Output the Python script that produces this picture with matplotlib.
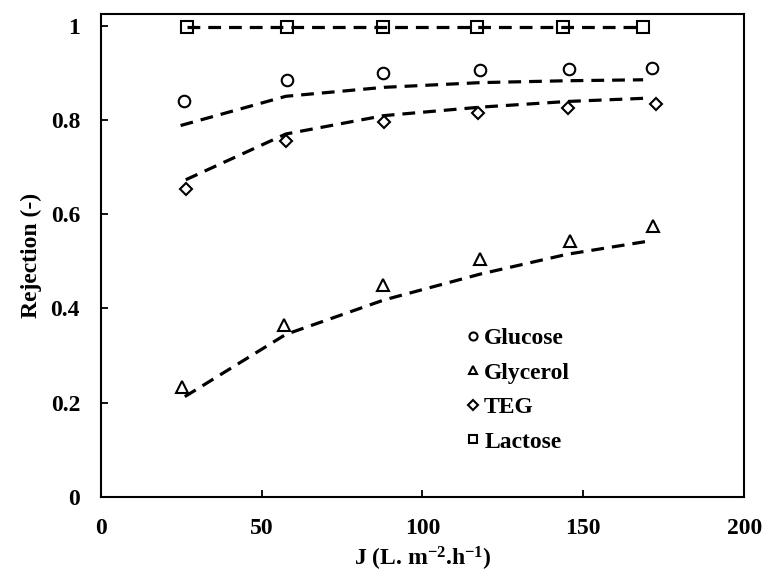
import matplotlib
matplotlib.use("Agg")
import matplotlib.pyplot as plt
from matplotlib.ticker import FuncFormatter

plt.rcParams['font.family'] = 'Liberation Serif'
plt.rcParams['font.weight'] = 'bold'
plt.rcParams['mathtext.fontset'] = 'custom'
plt.rcParams['mathtext.rm'] = 'Liberation Serif:bold'
plt.rcParams['mathtext.it'] = 'Liberation Serif:bold'
plt.rcParams['mathtext.bf'] = 'Liberation Serif:bold'

# measured points
glucose_x = [26.0, 57.8, 87.7, 118.0, 145.6, 171.5]
glucose_y = [0.839, 0.885, 0.900, 0.905, 0.907, 0.910]
glycerol_x = [25.1, 57.0, 87.8, 117.8, 145.8, 171.6]
glycerol_y = [0.234, 0.366, 0.450, 0.505, 0.544, 0.574]
teg_x = [26.6, 57.5, 88.0, 117.3, 145.3, 172.6]
teg_y = [0.653, 0.756, 0.795, 0.815, 0.826, 0.834]
lactose_x = [26.7, 57.8, 87.7, 117.0, 143.7, 168.6]
lactose_y = [0.998, 0.998, 0.998, 0.998, 0.998, 0.998]

# model (dashed) curves
glucose_fit_x = [24.8, 57.5, 88.0, 118.0, 145.0, 168.6]
glucose_fit_y = [0.788, 0.850, 0.869, 0.879, 0.883, 0.885]
glycerol_fit_x = [26.1, 57.5, 88.0, 118.0, 145.0, 169.5]
glycerol_fit_y = [0.213, 0.345, 0.418, 0.473, 0.515, 0.542]
teg_fit_x = [26.4, 57.5, 88.0, 118.0, 145.0, 169.8]
teg_fit_y = [0.673, 0.770, 0.809, 0.827, 0.839, 0.846]
lactose_fit_x = [26.7, 168.6]
lactose_fit_y = [0.998, 0.998]

fig = plt.figure(figsize=(7.64, 5.74), dpi=100)
ax = fig.add_axes([0.132, 0.134, 0.842, 0.842])

dash = dict(color='black', linestyle='--', linewidth=2.3, dashes=(4, 2.5))
ax.plot(glucose_fit_x, glucose_fit_y, **dash)
ax.plot(glycerol_fit_x, glycerol_fit_y, **dash)
ax.plot(teg_fit_x, teg_fit_y, **dash)
ax.plot(lactose_fit_x, lactose_fit_y, **dash)

mk = dict(linestyle='none', markerfacecolor='none', markeredgecolor='black',
          markeredgewidth=1.5)
ax.plot(glucose_x, glucose_y, marker='o', markersize=8.3, label='Glucose', **mk)
ax.plot(glycerol_x, glycerol_y, marker='^', markersize=8.3, label='Glycerol', **mk)
ax.plot(teg_x, teg_y, marker='D', markersize=6.6, label='TEG', **mk)
ax.plot(lactose_x, lactose_y, marker='s', markersize=8.3, label='Lactose', **mk)

ax.set_xlim(0, 200)
ax.set_ylim(0, 1.025)
ax.set_xticks([0, 50, 100, 150, 200])
ax.set_yticks([0, 0.2, 0.4, 0.6, 0.8, 1.0])
ax.yaxis.set_major_formatter(FuncFormatter(lambda v, p: f'{v:g}'))
ax.tick_params(direction='in', length=5, width=1.3, labelsize=17, pad=15)
for s in ax.spines.values():
    s.set_linewidth(1.5)

ax.set_xlabel('J (L. m$^{-2}$.h$^{-1}$)', fontsize=17, fontweight='bold', labelpad=4)
ax.set_ylabel('Rejection (-)', fontsize=17, fontweight='bold', labelpad=6)

ax.legend(loc='upper left', bbox_to_anchor=(0.55, 0.375), frameon=False,
          fontsize=17, handlelength=0.55, handletextpad=0.2, labelspacing=0.55,
          markerscale=0.7, borderpad=0)

fig.savefig('out.png', dpi=100)
